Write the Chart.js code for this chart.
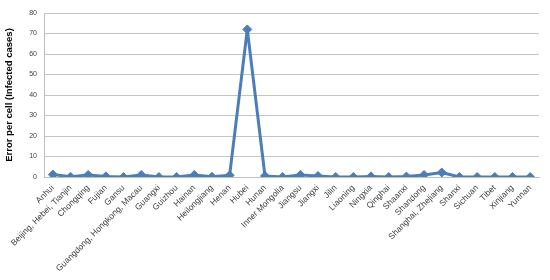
<!DOCTYPE html>
<html>
<head>
<meta charset="utf-8">
<script src="https://cdn.jsdelivr.net/npm/chart.js@4.4.0/dist/chart.umd.min.js"></script>
<style>
  html, body { margin: 0; padding: 0; background: #fff; }
  #wrap { width: 550px; height: 280px; }
</style>
</head>
<body>
<div id="wrap"><canvas id="chart"></canvas></div>
<script>
/* ── Data ─────────────────────────────────────────────── */
const REGIONS = [
  'Anhui', 'Beijing, Hebei, Tianjin', 'Chongqing', 'Fujian', 'Gansu',
  'Guangdong, Hongkong, Macau', 'Guangxi', 'Guizhou', 'Hainan', 'Heilongjiang',
  'Henan', 'Hubei', 'Hunan', 'Inner Mongolia', 'Jiangsu', 'Jiangxi', 'Jilin',
  'Liaoning', 'Ningxia', 'Qinghai', 'Shaanxi', 'Shandong', 'Shanghai, Zhejiang',
  'Shanxi', 'Sichuan', 'Tibet', 'Xinjiang', 'Yunnan'
];
const ERROR_PER_CELL = [
  1.2, 0.1, 1.0, 0.3, 0.0,
  1.0, 0.0, 0.0, 1.0, 0.1,
  0.8, 72, 0.5, 0.0, 1.0, 0.5, 0.0,
  0.0, 0.3, 0.0, 0.2, 1.0, 2.2,
  0.0, 0.0, 0.0, 0.0, 0.0
];
const Y_TICKS = [0, 10, 20, 30, 40, 50, 60, 70, 80];

/* ── Chart ────────────────────────────────────────────── */
Chart.defaults.font.family = "'Liberation Sans', Arial, sans-serif";
Chart.defaults.color = '#404040';

new Chart(document.getElementById('chart'), {
  type: 'line',
  data: {
    labels: REGIONS,
    datasets: [{
      data: ERROR_PER_CELL,
      borderColor: '#4a7ebb',
      backgroundColor: '#4a7ebb',
      borderWidth: 3,
      borderJoinStyle: 'round',
      pointStyle: 'rectRot',
      pointRadius: 4.5,
      pointBorderWidth: 1,
      tension: 0,
    }],
  },
  options: {
    responsive: true,
    maintainAspectRatio: false,
    animation: false,
    layout: { padding: { top: 13, right: 11, left: 4, bottom: 0 } },
    plugins: { legend: { display: false }, tooltip: { enabled: false } },
    scales: {
      x: {
        offset: true,
        grid: { display: false, drawTicks: false },
        border: { display: true, color: '#bfbfbf' },
        afterFit: axis => { axis.height = 103; },
        ticks: {
          autoSkip: false,
          maxRotation: 45,
          minRotation: 45,
          padding: 6,
          font: { size: 8.5 },
          color: '#404040',
        },
      },
      y: {
        min: 0,
        max: 80,
        afterBuildTicks: axis => { axis.ticks = Y_TICKS.map(v => ({ value: v })); },
        afterFit: axis => { axis.width = 40; },
        grid: { color: '#c4c4c4', drawTicks: false },
        border: { display: true, color: '#bfbfbf' },
        ticks: { padding: 7, font: { size: 7 }, color: '#404040' },
        title: {
          display: true,
          text: 'Error per cell (Infected cases)',
          font: { size: 9.5, weight: 'bold' },
          color: '#000',
          padding: { top: 0, bottom: 4 },
        },
      },
    },
  },
});
</script>
</body>
</html>
